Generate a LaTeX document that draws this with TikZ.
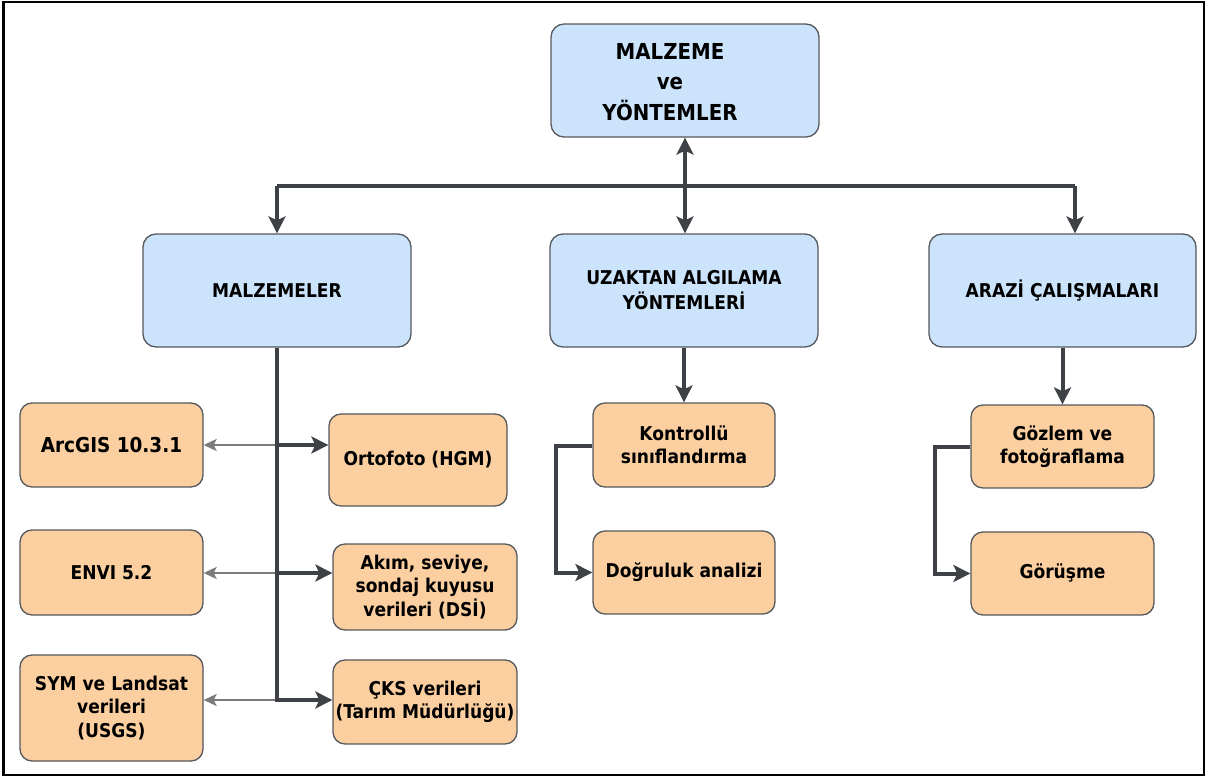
\documentclass[tikz,border=0pt]{standalone}
\usepackage{fontspec}
\setmainfont{DejaVu Sans Condensed}
\usetikzlibrary{arrows.meta,calc}
\definecolor{bluefill}{HTML}{CCE4FB}
\definecolor{orfill}{HTML}{FBCFA0}
\definecolor{boxline}{HTML}{55585C}
\definecolor{conn}{HTML}{3E4145}
\definecolor{thin}{HTML}{7A7A7A}
\tikzset{
  bluebox/.style={draw=boxline, line width=1.3pt, fill=bluefill, rounded corners=13pt, align=center, inner sep=0pt, font=\fontsize{19}{25}\selectfont\bfseries},
  orbox/.style={draw=boxline, line width=1.3pt, fill=orfill, rounded corners=12pt, align=center, inner sep=0pt, font=\fontsize{19}{23.5}\selectfont\bfseries},
  thick conn/.style={draw=conn, line width=4pt, -{Stealth[length=17pt,width=17pt,inset=4pt]}},
  plainconn/.style={draw=conn, line width=4pt},
  thin conn/.style={draw=thin, line width=2.2pt, -{Stealth[length=13pt,width=12pt,inset=3pt]}},
}
\begin{document}
\begin{tikzpicture}[x=1pt,y=-1pt]
\useasboundingbox (0,0) rectangle (1208,778);
\draw[black, line width=2.5pt] (3.5,2) rectangle (1204,775);
% top
\node[bluebox, minimum width=268pt, minimum height=113pt] (top) at (685,80.5) {};
\node[align=center, font=\fontsize{22}{30.5}\selectfont\bfseries] (toptext) at (670,82) {MALZEME\\ve\\YÖNTEMLER};
% level 2
\node[bluebox, minimum width=268pt, minimum height=113pt] (malz) at (277,290.5) {MALZEMELER};
\node[bluebox, minimum width=268pt, minimum height=113pt] (uzak) at (684,290.5) {UZAKTAN ALGILAMA\\YÖNTEMLERİ};
\node[bluebox, minimum width=267pt, minimum height=113pt] (arazi) at (1062.5,290.5) {ARAZİ ÇALIŞMALARI};
% left column
\node[orbox, minimum width=183pt, minimum height=84pt] (arc) at (111.5,445) {\fontsize{20.5}{24}\selectfont ArcGIS 10.3.1};
\node[orbox, minimum width=183pt, minimum height=85pt] (envi) at (111.5,572.5) {ENVI 5.2};
\node[orbox, minimum width=183pt, minimum height=106pt] (sym) at (111.5,708) {SYM ve Landsat\\verileri\\(USGS)};
\node[orbox, minimum width=178pt, minimum height=92pt] (orto) at (418,460) {Ortofoto (HGM)};
\node[orbox, minimum width=184pt, minimum height=86pt] (akim) at (425,587) {Akım, seviye,\\sondaj kuyusu\\verileri (DSİ)};
\node[orbox, minimum width=184pt, minimum height=84pt] (cks) at (425,702) {ÇKS verileri\\(Tarım Müdürlüğü)};
% middle column
\node[orbox, minimum width=182pt, minimum height=84pt] (kont) at (684,445) {Kontrollü\\sınıflandırma};
\node[orbox, minimum width=182pt, minimum height=83pt] (dog) at (684,572.5) {Doğruluk analizi};
% right column
\node[orbox, minimum width=183pt, minimum height=83pt] (goz) at (1062.5,446.5) {Gözlem ve\\fotoğraflama};
\node[orbox, minimum width=183pt, minimum height=83pt] (gor) at (1062.5,573.5) {Görüşme};
% bus
\coordinate (b1) at (277,186);
\coordinate (b2) at (685,186);
\coordinate (b3) at (1075,186);
\draw[plainconn] (b1) -- (b3);
\draw[thick conn] (b2) -- (top.south -| b2);
\draw[thick conn] (b1) -- (malz.north);
\draw[thick conn] (b2) -- (uzak.north -| b2);
\draw[thick conn] (b3) -- (arazi.north -| b3);
% trunk
\coordinate (t1) at (277,445);
\coordinate (t2) at (277,573);
\coordinate (t3) at (277,700);
\draw[thin conn] (t1) -- (arc.east |- t1);
\draw[thin conn] (t2) -- (envi.east |- t2);
\draw[thin conn] (t3) -- (sym.east |- t3);
\draw[thick conn] (malz.south) -- (t3) -- (cks.west |- t3);
\draw[thick conn] (t1) -- (orto.west |- t1);
\draw[thick conn] (t2) -- (akim.west |- t2);
% middle
\draw[thick conn] (uzak.south) -- (kont.north);
\coordinate (m1) at (556,446);
\draw[thick conn] (kont.west |- m1) -- (m1) -- (m1 |- dog.west) -- (dog.west);
% right
\draw[thick conn] (arazi.south) -- (goz.north);
\coordinate (r1) at (935,447);
\draw[thick conn] (goz.west |- r1) -- (r1) -- (r1 |- gor.west) -- (gor.west);
\end{tikzpicture}
\end{document}
